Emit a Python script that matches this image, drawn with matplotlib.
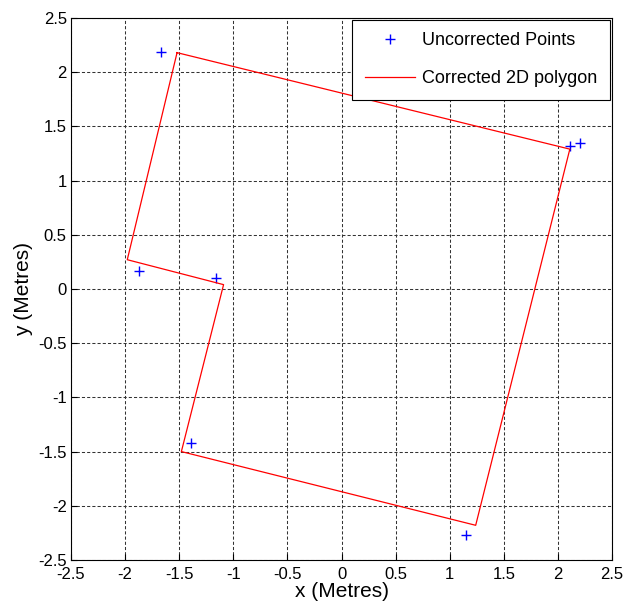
import matplotlib
matplotlib.use("Agg")
import matplotlib.pyplot as plt

# ============================================================
# DATA
# ============================================================

# uncorrected measured points
pts_x = [-1.67, 2.11, 2.20, -1.87, -1.16, -1.39, 1.15]
pts_y = [2.19, 1.32, 1.35, 0.17, 0.10, -1.42, -2.27]

# corrected polygon vertices (closed)
poly_x = [-1.52, 2.11, 1.24, -1.48, -1.09, -1.98, -1.52]
poly_y = [2.18, 1.29, -2.18, -1.50, 0.04, 0.27, 2.18]

ticks = [-2.5, -2, -1.5, -1, -0.5, 0, 0.5, 1, 1.5, 2, 2.5]
tick_labels = ["-2.5", "-2", "-1.5", "-1", "-0.5", "0", "0.5", "1", "1.5", "2", "2.5"]

# ============================================================
# PLOT
# ============================================================

plt.rcParams['font.family'] = ['Liberation Sans', 'DejaVu Sans']

fig = plt.figure(figsize=(6.24, 6.05), dpi=100)
ax = fig.add_axes([0.1138, 0.0744, 0.8670, 0.8959])

ax.plot(pts_x, pts_y, '+', color='blue', markersize=7, markeredgewidth=1.0,
        linestyle='none', label='Uncorrected Points')
ax.plot(poly_x, poly_y, '-', color='red', linewidth=0.9,
        label='Corrected 2D polygon')

ax.set_xlim(-2.5, 2.5)
ax.set_ylim(-2.5, 2.5)
ax.set_xticks(ticks)
ax.set_xticklabels(tick_labels)
ax.set_yticks(ticks)
ax.set_yticklabels(tick_labels)
ax.tick_params(direction='in', labelsize=12, length=4, width=0.8, pad=3)
ax.tick_params(axis='x', pad=5)

ax.grid(True, color='#333333', linestyle=(0, (3, 2)), linewidth=0.75)
for s in ax.spines.values():
    s.set_linewidth(0.8)

ax.set_xlabel('x (Metres)', fontsize=15, labelpad=0)
ax.set_ylabel('y (Metres)', fontsize=15, labelpad=4)

leg = ax.legend(loc='upper right', fontsize=13, fancybox=False, framealpha=1,
                edgecolor='black', borderaxespad=0.1, handlelength=2.8,
                handletextpad=0.4, borderpad=0.7, labelspacing=1.15)
leg.get_frame().set_linewidth(0.8)

plt.savefig('out.png', dpi=100)
plt.close()
